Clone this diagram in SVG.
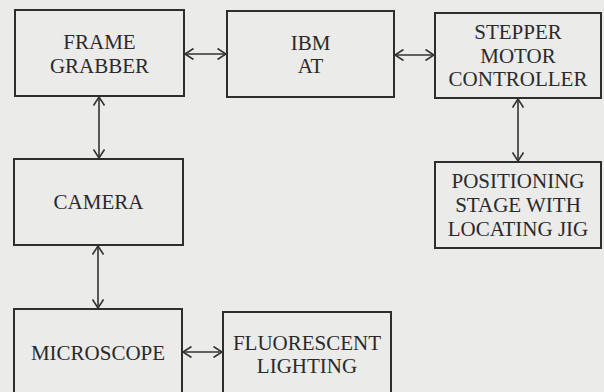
<svg xmlns="http://www.w3.org/2000/svg" width="604" height="392" viewBox="0 0 604 392">
<style>
.box{fill:none;stroke:#2e2e2e;stroke-width:2}
.t{font-family:"Liberation Serif","Times New Roman",serif;font-size:21px;fill:#2a2a2a;text-anchor:middle}
.c{stroke:#333;stroke-width:1.6;fill:none;marker-start:url(#ah);marker-end:url(#ah)}
</style>
<defs>
<marker id="ah" viewBox="0 0 10 12" refX="9.5" refY="6" markerWidth="10" markerHeight="12" markerUnits="userSpaceOnUse" orient="auto-start-reverse">
<path d="M1,0.5 L9.5,6 L1,11.5" fill="none" stroke="#333" stroke-width="1.6"/>
</marker>
</defs>
<rect width="604" height="392" fill="#ebebea"/>
<g id="frame-grabber"><rect class="box" x="15" y="10" width="169" height="86"/><text class="t" x="99.5" y="49">FRAME</text><text class="t" x="99.5" y="73">GRABBER</text></g>
<g id="ibm-at"><rect class="box" x="227" y="11" width="167" height="86"/><text class="t" x="310.5" y="50">IBM</text><text class="t" x="310.5" y="73">AT</text></g>
<g id="stepper"><rect class="box" x="435" y="13" width="166" height="85"/><text class="t" x="518" y="39">STEPPER</text><text class="t" x="518" y="63">MOTOR</text><text class="t" x="518" y="86">CONTROLLER</text></g>
<g id="positioning"><rect class="box" x="435" y="162" width="166" height="86"/><text class="t" x="518" y="188">POSITIONING</text><text class="t" x="518" y="212">STAGE WITH</text><text class="t" x="518" y="236">LOCATING JIG</text></g>
<g id="camera"><rect class="box" x="14" y="159" width="169" height="86"/><text class="t" x="98.5" y="209">CAMERA</text></g>
<g id="microscope"><rect class="box" x="14" y="309" width="168" height="100"/><text class="t" x="98" y="360">MICROSCOPE</text></g>
<g id="fluorescent"><rect class="box" x="223" y="312" width="168" height="100"/><text class="t" x="307" y="350">FLUORESCENT</text><text class="t" x="307" y="373">LIGHTING</text></g>
<g id="connectors">
<line class="c" x1="185" y1="54" x2="226" y2="54"/>
<line class="c" x1="395" y1="55" x2="434" y2="55"/>
<line class="c" x1="518" y1="99" x2="518" y2="161"/>
<line class="c" x1="99" y1="97" x2="99" y2="158"/>
<line class="c" x1="98" y1="246" x2="98" y2="308"/>
<line class="c" x1="183" y1="352" x2="222" y2="352"/>
</g>
</svg>
